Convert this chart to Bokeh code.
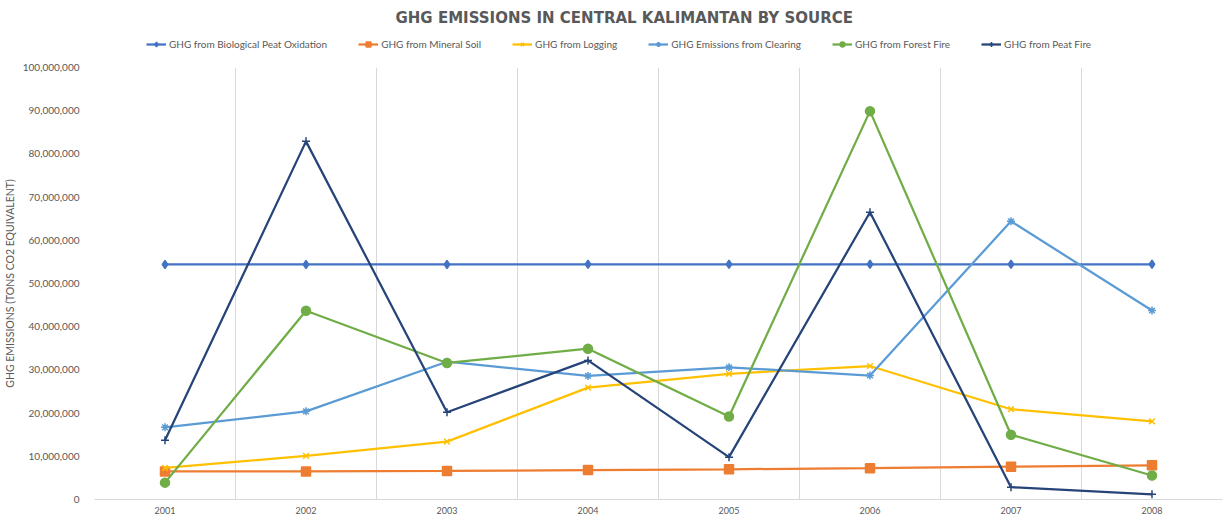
from bokeh.plotting import figure
from bokeh.layouts import column
from bokeh.models import (FixedTicker, NumeralTickFormatter, Legend, LegendItem, Range1d, Spacer)
from bokeh.embed import file_html
from bokeh.resources import INLINE

years = ["2001", "2002", "2003", "2004", "2005", "2006", "2007", "2008"]
bio_peat_oxidation = [54400000, 54400000, 54400000, 54450000, 54450000, 54450000, 54450000, 54450000]
mineral_soil = [6500000, 6500000, 6600000, 6800000, 7000000, 7250000, 7600000, 7900000]
logging_ = [7300000, 10100000, 13400000, 25900000, 29100000, 30900000, 20900000, 18100000]
clearing = [16700000, 20400000, 31900000, 28600000, 30600000, 28700000, 64400000, 43750000]
forest_fire = [3900000, 43700000, 31600000, 34900000, 19200000, 89900000, 15000000, 5550000]
peat_fire = [13700000, 82900000, 20200000, 32200000, 9800000, 66500000, 2850000, 1200000]

series_names = [
    "GHG from Biological Peat Oxidation",
    "GHG from Mineral Soil",
    "GHG from Logging",
    "GHG Emissions from Clearing",
    "GHG from Forest Fire",
    "GHG from Peat Fire",
]
series_values = [bio_peat_oxidation, mineral_soil, logging_, clearing, forest_fire, peat_fire]
colors = ["#4472C4", "#ED7D31", "#FFC000", "#5B9BD5", "#70AD47", "#264478"]
markers = ["diamond", "square", "x", "asterisk", "circle", "cross"]
marker_sizes = [8, 9, 8, 8, 9, 8]

FONT = "Lato"
GRAY = "#595959"

x = list(range(len(years)))

# ---------------- header: title + legend ----------------
head = figure(width=1215, height=55, output_backend="svg", toolbar_location=None,
              x_axis_location=None, y_axis_location=None,
              min_border_left=0, min_border_right=0, min_border_top=0, min_border_bottom=0,
              x_range=Range1d(100, 101), y_range=Range1d(0, 1),
              title="GHG EMISSIONS IN CENTRAL KALIMANTAN BY SOURCE")
head.title.align = "left"
head.title.text_font = "DejaVu Sans"
head.title.text_font_size = "15px"
head.title.text_font_style = "bold"
head.title.text_color = GRAY
head.title.offset = 301
head.title.standoff = 0
head.outline_line_color = None
head.xgrid.visible = False
head.ygrid.visible = False

items = []
for name, vals, c, m, s in zip(series_names, series_values, colors, markers, marker_sizes):
    ln = head.line(x, vals, line_color=c, line_width=2.25)
    sc = head.scatter(x, vals, marker=m, size=s, line_color=c, fill_color=c, line_width=1.5)
    items.append(LegendItem(label=name, renderers=[ln, sc]))

legend = Legend(items=items, orientation="horizontal", location=(52, 11),
                label_text_font=FONT, label_text_font_size="10px", label_text_color=GRAY,
                glyph_width=20, glyph_height=12, label_standoff=3, spacing=31,
                padding=2, margin=0, border_line_color=None, background_fill_alpha=0)
head.add_layout(legend)

# ---------------- main chart ----------------
p = figure(frame_width=1128, frame_height=432, output_backend="svg", toolbar_location=None,
           min_border_left=85, min_border_right=1, min_border_top=6, min_border_bottom=12,
           x_range=Range1d(-0.5, len(years) - 0.5), y_range=Range1d(0, 100000000))

p.outline_line_color = None
p.background_fill_color = "white"
p.border_fill_color = "white"

p.xaxis.ticker = FixedTicker(ticks=x)
p.xaxis.major_label_overrides = {i: y for i, y in zip(x, years)}
p.xaxis.major_tick_line_color = None
p.xaxis.minor_tick_line_color = None
p.xaxis.axis_line_color = "#D9D9D9"
p.xaxis.axis_line_width = 1
p.xaxis.major_label_text_font = FONT
p.xaxis.major_label_text_font_size = "9px"
p.xaxis.major_label_text_color = GRAY
p.xaxis.major_label_standoff = 1

p.yaxis.ticker = FixedTicker(ticks=[i * 10000000 for i in range(11)])
p.yaxis.formatter = NumeralTickFormatter(format="0,0")
p.yaxis.major_tick_line_color = None
p.yaxis.minor_tick_line_color = None
p.yaxis.axis_line_color = None
p.yaxis.major_label_text_font = FONT
p.yaxis.major_label_text_font_size = "10px"
p.yaxis.major_label_text_color = GRAY
p.yaxis.major_label_standoff = 9
p.yaxis.axis_label = "GHG EMISSIONS (TONS CO2 EQUIVALENT)"
p.yaxis.axis_label_text_font = FONT
p.yaxis.axis_label_text_font_size = "10.5px"
p.yaxis.axis_label_text_font_style = "normal"
p.yaxis.axis_label_text_color = GRAY
p.yaxis.axis_label_standoff = 4

p.ygrid.grid_line_color = None
p.xgrid.ticker = FixedTicker(ticks=[i - 0.5 for i in range(len(years) + 1)])
p.xgrid.grid_line_color = "#D9D9D9"
p.xgrid.grid_line_width = 1

for name, vals, c, m, s in zip(series_names, series_values, colors, markers, marker_sizes):
    p.line(x, vals, line_color=c, line_width=2.25)
    p.scatter(x, vals, marker=m, size=s, line_color=c, fill_color=c, line_width=1.5)

layout = column(Spacer(width=10, height=6), head, p, spacing=0)
open("out.html", "w").write(file_html(layout, INLINE))
